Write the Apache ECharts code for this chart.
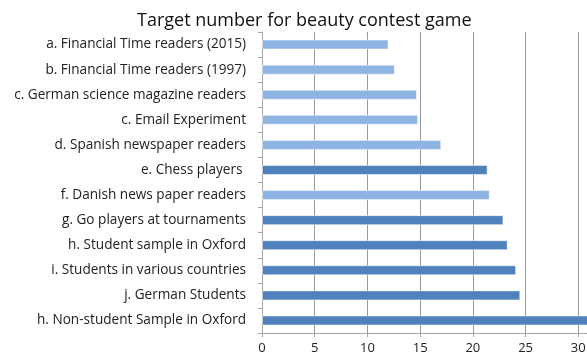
<!DOCTYPE html>
<html>
<head>
<meta charset="utf-8">
<script src="https://cdn.jsdelivr.net/npm/echarts@6/dist/echarts.min.js"></script>
<style>html,body{margin:0;padding:0;background:#fff;overflow:hidden;width:587px;height:358px}#c{width:634px;height:358px}</style>
</head>
<body>
<div id="c"></div>
<script>
var categories = [
  'a. Financial Time readers (2015)',
  'b. Financial Time readers (1997)',
  'c. German science magazine readers',
  'c. Email Experiment',
  'd. Spanish newspaper readers',
  'e. Chess players ',
  'f. Danish news paper readers',
  'g. Go players at tournaments',
  'h. Student sample in Oxford',
  'i. Students in various countries',
  'j. German Students',
  'h. Non-student Sample in Oxford'
];
var values = [12.0, 12.6, 14.7, 14.8, 17.0, 21.4, 21.6, 22.9, 23.3, 24.1, 24.5, 31.0];
var isExpertGroup = [false, false, false, false, false, true, false, true, true, true, true, true];
var xTicks = [0, 5, 10, 15, 20, 25, 30];

var LIGHT = '#8EB4E3', DARK = '#4F81BD';
var FONT = 'Open Sans';
var chart = echarts.init(document.getElementById('c'), null, {renderer: 'canvas'});
chart.setOption({
  animation: false,
  textStyle: {fontFamily: FONT},
  title: {
    text: 'Target number for beauty contest game',
    left: 132, top: 7,
    textStyle: {fontFamily: FONT, fontSize: 18, fontWeight: 'normal', color: '#111'}
  },
  grid: {left: 262, top: 32, bottom: 25, right: 0, containLabel: false},
  xAxis: {
    type: 'value', min: 0, max: 35, interval: 5,
    axisLine: {show: true, lineStyle: {color: '#A6A6A6'}},
    axisTick: {show: true, length: 4, lineStyle: {color: '#A6A6A6'}},
    splitLine: {show: true, lineStyle: {color: '#9A9A9A', width: 1}},
    axisLabel: {
      fontFamily: FONT, fontSize: 13, color: '#222', margin: 9,
      formatter: function (v) { return xTicks.indexOf(v) >= 0 ? String(v) : ''; }
    }
  },
  yAxis: {
    type: 'category', data: categories, inverse: true,
    axisLine: {show: true, lineStyle: {color: '#A6A6A6'}},
    axisTick: {show: true, length: 4, lineStyle: {color: '#A6A6A6'}},
    axisLabel: {fontFamily: FONT, fontSize: 13.6, color: '#222', margin: 16}
  },
  series: [{
    type: 'bar',
    barWidth: 10,
    data: values.map(function (v, i) {
      return {value: v, itemStyle: {color: isExpertGroup[i] ? DARK : LIGHT,
        borderColor: 'rgba(255,255,255,0.5)', borderWidth: 1}};
    })
  }]
});
</script>
</body>
</html>
